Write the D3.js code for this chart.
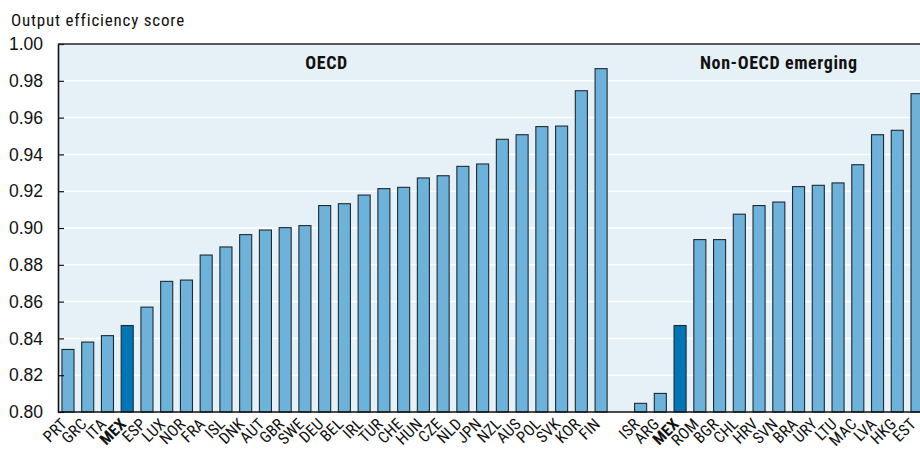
<!DOCTYPE html>
<html>
<head>
<meta charset="utf-8">
<script src="https://cdn.jsdelivr.net/npm/d3@7"></script>
<style>
  body { margin: 0; background: #fff; }
  text { font-family: "Liberation Sans Narrow", "Arial Narrow", "Roboto Condensed", "Liberation Sans", sans-serif; }
</style>
</head>
<body>
<svg id="drawing_region"></svg>
<script>
// OECD countries, sorted as in the source
const oecd_labels = ['PRT','GRC','ITA','MEX','ESP','LUX','NOR','FRA','ISL','DNK','AUT','GBR','SWE','DEU',
    'BEL','IRL','TUR','CHE','HUN','CZE','NLD','JPN','NZL','AUS','POL','SVK','KOR','FIN'];
const oecd_values = [0.834, 0.838, 0.8415, 0.847, 0.857, 0.871, 0.8717, 0.8853, 0.8897, 0.8964, 0.8989, 0.9002, 0.9013, 0.9122,
    0.9132, 0.9179, 0.9214, 0.9221, 0.9272, 0.9284, 0.9335, 0.9348, 0.9482, 0.9507, 0.9551, 0.9554, 0.9746, 0.9866];

// non-OECD emerging economies (MEX repeated for comparison)
const emerging_labels = ['ISR','ARG','MEX','ROM','BGR','CHL','HRV','SVN','BRA','URY','LTU','MAC','LVA','HKG','EST'];
const emerging_values = [0.8047, 0.8101, 0.847, 0.8937, 0.8937, 0.9075, 0.9122, 0.9141, 0.9225, 0.9232, 0.9245, 0.9344, 0.9507, 0.9531, 0.973];

const group_titles = ['OECD', 'Non-OECD emerging'];
const y_ticks = [0.80, 0.82, 0.84, 0.86, 0.88, 0.90, 0.92, 0.94, 0.96, 0.98, 1.00];
const highlight = 'MEX';

var data = [];
oecd_labels.forEach( (l, i) => data.push({ key: 'o' + i, label: l, value: oecd_values[i], group: 0 }) );
data.push({ key: 'gap', label: '', value: null, group: -1 });
emerging_labels.forEach( (l, i) => data.push({ key: 'e' + i, label: l, value: emerging_values[i], group: 1 }) );

var config = {
    parent: '#drawing_region',
    width: 920,
    height: 451,
    margin: {top:44, right:-7, bottom:39, left:58}
};

class BarChart {
    constructor(config, data) {
        this.config = config;
        this.data = data;
        this.init();
    }

    init() {
        let self = this;
        self.svg = d3.select(self.config.parent)
            .attr('width', self.config.width)
            .attr('height', self.config.height);

        self.inner_width = self.config.width - self.config.margin.left - self.config.margin.right;
        self.inner_height = self.config.height - self.config.margin.top - self.config.margin.bottom;

        self.chart = self.svg.append('g')
            .attr('transform', `translate(${self.config.margin.left}, ${self.config.margin.top})`);

        self.xscale = d3.scaleBand()
            .domain(self.data.map(d => d.key))
            .range([0, self.inner_width])
            .paddingInner(0.39)
            .paddingOuter(0.2);

        self.yscale = d3.scaleLinear()
            .domain([0.80, 1.00])
            .range([self.inner_height, 0]);
    }

    render() {
        let self = this;
        const h = self.inner_height;

        self.chart.append('rect')
            .attr('width', self.inner_width)
            .attr('height', h)
            .attr('fill', '#e6f0f7');

        // gridlines
        self.chart.selectAll('.grid')
            .data(y_ticks.slice(1, -1))
            .join('line')
            .attr('x1', 0).attr('x2', self.inner_width)
            .attr('y1', d => self.yscale(d)).attr('y2', d => self.yscale(d))
            .attr('stroke', '#fff')
            .attr('stroke-width', 1.5);

        // bars
        self.chart.selectAll('.bar')
            .data(self.data.filter(d => d.value !== null))
            .join('rect')
            .attr('x', d => self.xscale(d.key))
            .attr('width', self.xscale.bandwidth())
            .attr('y', d => self.yscale(d.value))
            .attr('height', d => h - self.yscale(d.value))
            .attr('fill', d => d.label == highlight ? '#0076b6' : '#6db2da')
            .attr('stroke', '#1f2a30')
            .attr('stroke-width', 1.1);

        // y axis, ticks pointing inward
        const yaxis = d3.axisLeft(self.yscale)
            .tickValues(y_ticks)
            .tickFormat(d3.format('.2f'))
            .tickSize(-6)
            .tickSizeOuter(0)
            .tickPadding(15);
        const yg = self.chart.append('g').call(yaxis);
        yg.select('.domain').attr('stroke', '#111').attr('stroke-width', 1.6);
        yg.selectAll('.tick line').attr('stroke', '#111').attr('stroke-width', 1.2);
        yg.selectAll('.tick text')
            .attr('font-size', 17.5)
            .attr('fill', '#111')
            .style('font-family', '"Liberation Sans Narrow", "Arial Narrow", sans-serif');

        // frame top and bottom
        self.chart.append('line')
            .attr('x1', 0).attr('x2', self.inner_width)
            .attr('y1', 0).attr('y2', 0)
            .attr('stroke', '#222').attr('stroke-width', 1.6);
        self.chart.append('line')
            .attr('x1', 0).attr('x2', self.inner_width)
            .attr('y1', h).attr('y2', h)
            .attr('stroke', '#111').attr('stroke-width', 1.6);

        // x labels
        self.chart.selectAll('.xlab')
            .data(self.data.filter(d => d.label))
            .join('text')
            .attr('transform', d => `translate(${self.xscale(d.key) + self.xscale.bandwidth() / 2}, ${h + 13}) rotate(-45)`)
            .attr('text-anchor', 'end')
            .attr('font-size', 16)
            .attr('letter-spacing', 0.2)
            .attr('font-weight', d => d.label == highlight ? 'bold' : 'normal')
            .attr('fill', '#111')
            .text(d => d.label);

        // group titles
        [0, 1].forEach(g => {
            const keys = self.data.filter(d => d.group == g).map(d => d.key);
            const x0 = self.xscale(keys[0]);
            const x1 = self.xscale(keys[keys.length - 1]) + self.xscale.bandwidth();
            self.chart.append('text')
                .attr('x', (x0 + x1) / 2 - (g == 0 ? 8 : 0))
                .attr('y', 25)
                .attr('text-anchor', 'middle')
                .attr('font-size', 18)
                .attr('letter-spacing', 0.6)
                .attr('font-weight', 'bold')
                .attr('fill', '#111')
                .text(group_titles[g]);
        });

        self.svg.append('text')
            .attr('x', 11)
            .attr('y', 26)
            .attr('font-size', 17)
            .attr('letter-spacing', 0.8)
            .attr('fill', '#111')
            .text('Output efficiency score');
    }
}

const barchart = new BarChart(config, data);
barchart.render();
</script>
</body>
</html>
